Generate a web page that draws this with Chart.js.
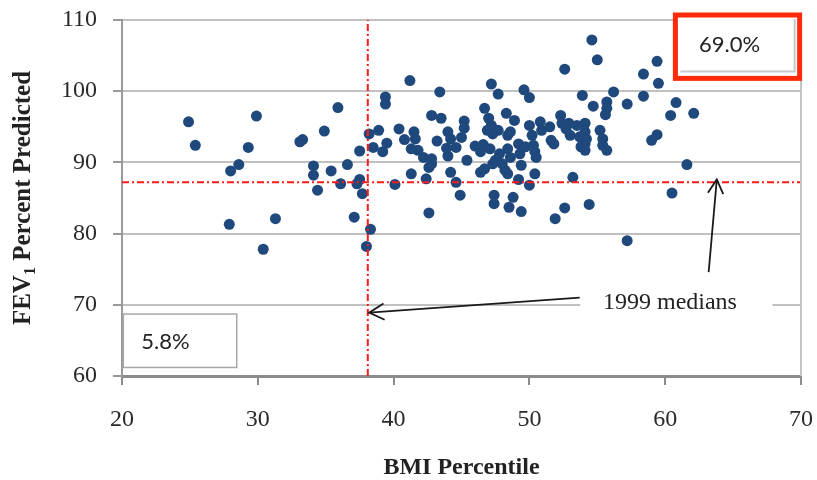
<!DOCTYPE html>
<html lang="en">
<head>
    <meta charset="UTF-8">
    <title>FEV1 vs BMI Percentile</title>
    <script src="https://cdn.jsdelivr.net/npm/chart.js"></script>
    <style>
        body {
            margin: 0;
            padding: 0;
            background: #fff;
        }
    </style>
</head>
<body>
    <canvas id="fevChart" width="817" height="480"></canvas>

    <script>
        // subjects: BMI percentile vs FEV1 % predicted
        const bmiPercentile = [
            24.9, 25.4, 27.9, 28.0, 28.6, 29.3, 29.9, 30.4, 31.3, 33.1,
            33.3, 34.1, 34.1, 34.4, 34.9, 35.4, 35.9, 36.1, 36.6, 37.1,
            37.5, 37.5, 37.3, 37.7, 38.0, 38.3, 38.2, 38.5, 38.9, 39.2,
            39.5, 39.4, 39.4, 40.1, 40.4, 40.8, 41.2, 41.3, 41.5, 41.6,
            41.3, 41.8, 42.2, 42.8, 42.8, 42.6, 42.4, 42.6, 43.4, 42.8,
            43.5, 43.2, 44.0, 44.2, 43.9, 44.0, 44.6, 44.2, 44.6, 44.9,
            45.2, 45.2, 45.0, 45.4, 46.0, 46.6, 46.4, 47.1, 46.4, 47.2,
            47.7, 49.6, 50.0, 52.6, 53.9, 54.7, 46.7, 47.0, 48.3, 48.9,
            47.2, 46.9, 47.7, 48.6, 50.0, 50.8, 50.2, 50.9, 51.5, 51.6,
            52.3, 52.4, 52.9, 53.0, 53.5, 53.7, 53.8, 48.4, 49.2, 49.3,
            48.6, 50.3, 50.5, 47.5, 48.0, 46.7, 47.3, 48.2, 48.4, 49.4,
            50.4, 49.2, 50.0, 53.2, 47.4, 47.4, 48.8, 48.5, 49.4, 51.9,
            52.6, 54.4, 54.6, 55.0, 59.4, 58.4, 59.5, 56.2, 58.4, 55.7,
            55.7, 55.6, 57.2, 60.8, 60.4, 62.1, 54.1, 54.1, 55.2, 54.2,
            55.4, 59.4, 59.0, 54.1, 55.4, 55.7, 61.6, 60.5, 57.2, 47.3,
            47.8, 48.4, 49.7, 50.4, 51.8, 52.7, 54.1
        ];
        const fevPredicted = [
            95.7, 92.4, 81.3, 88.8, 89.7, 92.1, 96.5, 77.8, 82.1, 92.9,
            93.2, 89.5, 88.2, 86.1, 94.4, 88.8, 97.7, 87.0, 89.7, 82.3,
            91.6, 87.6, 87.0, 85.6, 78.2, 80.6, 94.0, 92.1, 94.5, 91.5,
            92.7, 99.2, 98.2, 86.9, 94.7, 93.2, 101.5, 88.4, 94.3, 93.3,
            91.9, 91.7, 90.7, 90.5, 89.8, 89.3, 87.7, 82.9, 99.9, 96.6,
            96.2, 93.0, 94.3, 93.3, 92.0, 90.9, 92.1, 88.6, 87.2, 85.4,
            95.8, 94.8, 93.5, 90.3, 92.3, 92.5, 91.5, 91.9, 88.6, 101.0,
            99.6, 100.2, 99.1, 103.1, 99.4, 97.9, 97.6, 96.2, 96.9, 95.9,
            95.2, 94.5, 94.5, 94.3, 95.2, 95.7, 93.8, 94.5, 95.0, 93.1,
            96.6, 95.5, 95.5, 93.8, 95.2, 93.6, 92.2, 91.9, 92.6, 91.2,
            90.7, 92.4, 90.7, 90.3, 89.8, 89.1, 89.8, 88.9, 88.4, 89.6,
            88.4, 87.6, 86.8, 87.9, 85.4, 84.2, 85.1, 83.7, 83.1, 82.1,
            83.6, 84.1, 107.2, 104.4, 104.2, 102.4, 101.1, 99.9, 99.3, 98.5,
            97.6, 96.7, 98.2, 98.4, 96.6, 96.9, 95.5, 94.3, 94.5, 93.3,
            93.3, 93.9, 93.1, 91.7, 92.4, 91.7, 89.7, 85.7, 79.0, 94.0,
            91.2, 93.8, 92.2, 91.5, 92.6, 94.7, 92.6
        ];

        const xTicks = [20, 30, 40, 50, 60, 70];
        const yTicks = [60, 70, 80, 90, 100, 110];

        // 1999 medians
        const medianBmi = 38.1;
        const medianFev = 87.2;

        const highShareText = '69.0%';
        const lowShareText = '5.8%';
        const medianNote = '1999 medians';

        const serif = '"Liberation Serif", "Times New Roman", serif';
        const sans = 'Lato, "Liberation Sans", sans-serif';

        const points = bmiPercentile.map((b, i) => ({ x: b, y: fevPredicted[i] }));

        function drawArrow(ctx, x0, y0, x1, y1, head) {
            ctx.beginPath();
            ctx.moveTo(x0, y0);
            ctx.lineTo(x1, y1);
            ctx.stroke();
            const a = Math.atan2(y1 - y0, x1 - x0);
            ctx.beginPath();
            ctx.moveTo(x1 - head * Math.cos(a - 0.5), y1 - head * Math.sin(a - 0.5));
            ctx.lineTo(x1, y1);
            ctx.lineTo(x1 - head * Math.cos(a + 0.5), y1 - head * Math.sin(a + 0.5));
            ctx.stroke();
        }

        // y title with subscript, text boxes and arrows
        const extras = {
            id: 'extras',
            afterDatasetsDraw(chart) {
                const ctx = chart.ctx;
                const { top, bottom, right } = chart.chartArea;
                const sx = v => chart.scales.x.getPixelForValue(v);
                const sy = v => chart.scales.y.getPixelForValue(v);
                ctx.save();

                // right frame line
                ctx.strokeStyle = '#c4c4c4';
                ctx.lineWidth = 2;
                ctx.beginPath();
                ctx.moveTo(right, top);
                ctx.lineTo(right, bottom);
                ctx.stroke();

                // y axis title
                ctx.save();
                ctx.translate(24, (top + bottom) / 2);
                ctx.rotate(-Math.PI / 2);
                ctx.fillStyle = '#222';
                ctx.textBaseline = 'middle';
                const big = 'bold 25px ' + serif, small = 'bold 16px ' + serif;
                ctx.font = big;
                const w1 = ctx.measureText('FEV').width;
                const w3 = ctx.measureText(' Percent Predicted').width;
                ctx.font = small;
                const w2 = ctx.measureText('1').width;
                let tx = -(w1 + w2 + w3) / 2;
                ctx.font = big;
                ctx.fillText('FEV', tx, 0);
                ctx.font = small;
                ctx.fillText('1', tx + w1, 7);
                ctx.font = big;
                ctx.fillText(' Percent Predicted', tx + w1 + w2, 0);
                ctx.restore();

                // top right share box
                const hx0 = sx(60.75), hx1 = sx(69.9), hy0 = sy(110.7), hy1 = sy(101.8);
                ctx.fillStyle = '#fff';
                ctx.fillRect(hx0, hy0, hx1 - hx0, hy1 - hy0);
                ctx.strokeStyle = '#c8c8c8';
                ctx.lineWidth = 2;
                ctx.beginPath();
                ctx.moveTo(hx0 + 5, hy1 - 7);
                ctx.lineTo(hx1 - 5, hy1 - 7);
                ctx.lineTo(hx1 - 5, hy0 + 4);
                ctx.stroke();
                ctx.strokeStyle = '#ff2a0a';
                ctx.lineWidth = 5;
                ctx.strokeRect(hx0, hy0, hx1 - hx0, hy1 - hy0);
                ctx.fillStyle = '#222';
                ctx.font = '22px ' + sans;
                ctx.textAlign = 'center';
                ctx.textBaseline = 'middle';
                ctx.fillText(highShareText, (hx0 + hx1) / 2 - 8, (hy0 + hy1) / 2 - 2);

                // bottom left share box
                const lx0 = sx(20.1), lx1 = sx(28.45), ly0 = sy(68.7), ly1 = sy(61.2);
                ctx.fillStyle = '#fff';
                ctx.fillRect(lx0, ly0, lx1 - lx0, ly1 - ly0);
                ctx.strokeStyle = '#a8a8a8';
                ctx.lineWidth = 1.5;
                ctx.strokeRect(lx0, ly0, lx1 - lx0, ly1 - ly0);
                ctx.fillStyle = '#222';
                ctx.textAlign = 'left';
                ctx.fillText(lowShareText, lx0 + 18, (ly0 + ly1) / 2 + 1);

                // medians note with white background
                ctx.fillStyle = '#fff';
                ctx.fillRect(sx(53.75), sy(72.0), sx(67.9) - sx(53.75), sy(68.6) - sy(72.0));
                ctx.fillStyle = '#222';
                ctx.font = '24px ' + serif;
                ctx.textAlign = 'center';
                ctx.fillText(medianNote, sx(60.35), sy(70.3));

                // arrows
                ctx.strokeStyle = '#1a1a1a';
                ctx.lineWidth = 1.8;
                drawArrow(ctx, sx(53.7), sy(71.0), sx(38.2), sy(68.9), 17);
                drawArrow(ctx, sx(63.2), sy(74.6), sx(63.8), sy(87.6), 16);

                ctx.restore();
            }
        };

        const redLine = {
            showLine: true,
            borderColor: '#ff1a1a',
            borderWidth: 2,
            borderDash: [7, 3, 2, 3],
            pointRadius: 0,
            order: 0
        };

        new Chart(document.getElementById('fevChart'), {
            type: 'scatter',
            data: {
                datasets: [
                    Object.assign({ data: [{ x: medianBmi, y: 60 }, { x: medianBmi, y: 110 }] }, redLine),
                    Object.assign({ data: [{ x: 20, y: medianFev }, { x: 70, y: medianFev }] }, redLine),
                    {
                        data: points,
                        backgroundColor: '#1f497d',
                        borderWidth: 0,
                        pointRadius: 5.5,
                        order: 1
                    }
                ]
            },
            options: {
                responsive: false,
                animation: false,
                events: [],
                layout: { padding: { left: 0, right: 16, top: 20, bottom: 0 } },
                plugins: {
                    legend: { display: false },
                    tooltip: { enabled: false }
                },
                scales: {
                    x: {
                        type: 'linear',
                        min: 20,
                        max: 70,
                        afterBuildTicks: axis => { axis.ticks = xTicks.map(v => ({ value: v })); },
                        afterFit: scale => {
                            scale.height = 104;
                            scale.paddingLeft = 0;
                            scale.paddingRight = 0;
                        },
                        ticks: {
                            color: '#2a2a2a',
                            padding: 20,
                            maxRotation: 0,
                            font: { family: serif, size: 24 }
                        },
                        grid: {
                            drawOnChartArea: false,
                            tickLength: 9,
                            tickColor: '#8c8c8c',
                            lineWidth: 2
                        },
                        border: { color: '#8c8c8c', width: 3 },
                        title: {
                            display: true,
                            text: 'BMI Percentile',
                            color: '#222',
                            padding: { top: 0, bottom: 0 },
                            font: { family: serif, size: 24, weight: 'bold', lineHeight: 1 }
                        }
                    },
                    y: {
                        min: 60,
                        max: 110,
                        afterBuildTicks: axis => { axis.ticks = yTicks.map(v => ({ value: v })); },
                        afterFit: scale => {
                            scale.width = 122;
                            scale.paddingTop = 0;
                            scale.paddingBottom = 0;
                        },
                        ticks: {
                            color: '#2a2a2a',
                            padding: 16,
                            font: { family: serif, size: 24 }
                        },
                        grid: {
                            color: '#c0c0c0',
                            lineWidth: 2,
                            tickLength: 9,
                            tickColor: '#9a9a9a'
                        },
                        border: { color: '#9a9a9a', width: 2 }
                    }
                }
            },
            plugins: [extras]
        });
    </script>
</body>
</html>
